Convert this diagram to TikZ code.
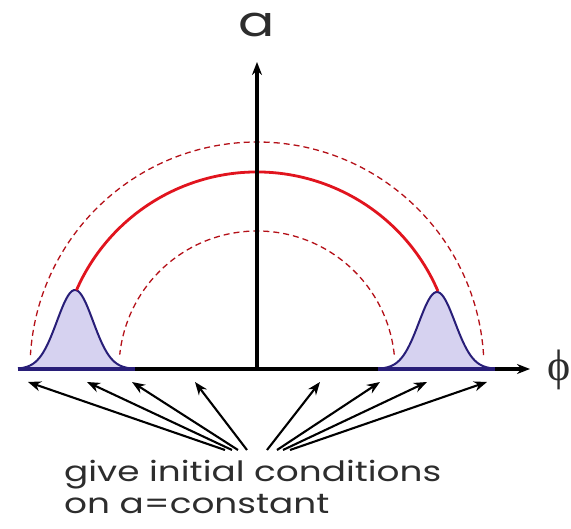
\documentclass[tikz,border=0pt]{standalone}
\usepackage{fontspec}
\setmainfont{Poppins}[FakeStretch=1.28]
\newfontfamily\phifont{Liberation Serif}
\usetikzlibrary{arrows.meta, positioning}

\definecolor{bumpfill}{RGB}{214,210,240}
\definecolor{bumpline}{RGB}{40,30,120}
\definecolor{arcred}{RGB}{225,20,30}
\definecolor{textgrey}{RGB}{45,45,45}

\begin{document}
\begin{tikzpicture}[
    x=1pt, y=1pt,
    >={Stealth[length=13pt, width=10pt]},
    axis/.style={draw, line width=3.4pt, ->},
    pointer/.style={draw, line width=2.1pt, ->},
    bump/.style={draw=bumpline, line width=2pt, fill=bumpfill},
    base/.style={draw=bumpline, line width=4pt},
    midarc/.style={draw=arcred, line width=2.8pt},
    sidearc/.style={draw=arcred!80!black, line width=1.3pt, dash pattern=on 6pt off 4pt},
    lbl/.style={font=\fontsize{28}{32}\selectfont, text=textgrey}
  ]
  \useasboundingbox (-257,-160) rectangle (314,369);

  % origin and axis ends
  \coordinate (o) at (0,0);
  \coordinate (xl) at (-239,0);
  \coordinate (xr) at (273,0);
  \coordinate (yt) at (0,307);

  % dashed arcs
  \draw[sidearc] (3.5:227) arc[start angle=3.5, end angle=176.5, radius=227];
  \draw[sidearc] (6:138) arc[start angle=6, end angle=174, radius=138];

  % bumps
  \path[bump] plot[domain=-57:57, samples=60, smooth]
    ({-182+\x}, {79*exp(-(\x*\x)/(2*18*18))});
  \path[bump] plot[domain=-57:57, samples=60, smooth]
    ({180+\x}, {77*exp(-(\x*\x)/(2*18*18))});

  % solid arc
  \draw[midarc] (23.3:197) arc[start angle=23.3, end angle=156.4, radius=197];

  % axes
  \draw[axis] (xl) -- (xr);
  \draw[axis] (o) -- (yt);
  \draw[base] (-239,0) -- (-122,0);
  \draw[base] (121,0) -- (238,0);

  \node[font=\fontsize{42}{42}\selectfont, text=textgrey] (alab) at (0,344) {a};
  \node[font=\fontsize{44}{44}\phifont, text=textgrey, anchor=west] (philab) at (287,-1) {ϕ};

  % caption
  \node[lbl, anchor=north west, align=left, inner sep=0pt] (note) at (-193,-91)
    {give initial conditions\\on a=constant};

  % pointers from the caption to the axis
  \foreach \s/\t [count=\i] in {-32/-229, -25/-170, -19/-125, -10/-62,
                                10/63, 20/123, 26/170, 33/230} {
    \coordinate (s\i) at (\s,-81);
    \coordinate (t\i) at (\t,-13);
    \draw[pointer] (s\i) -- (t\i);
  }
\end{tikzpicture}
\end{document}
